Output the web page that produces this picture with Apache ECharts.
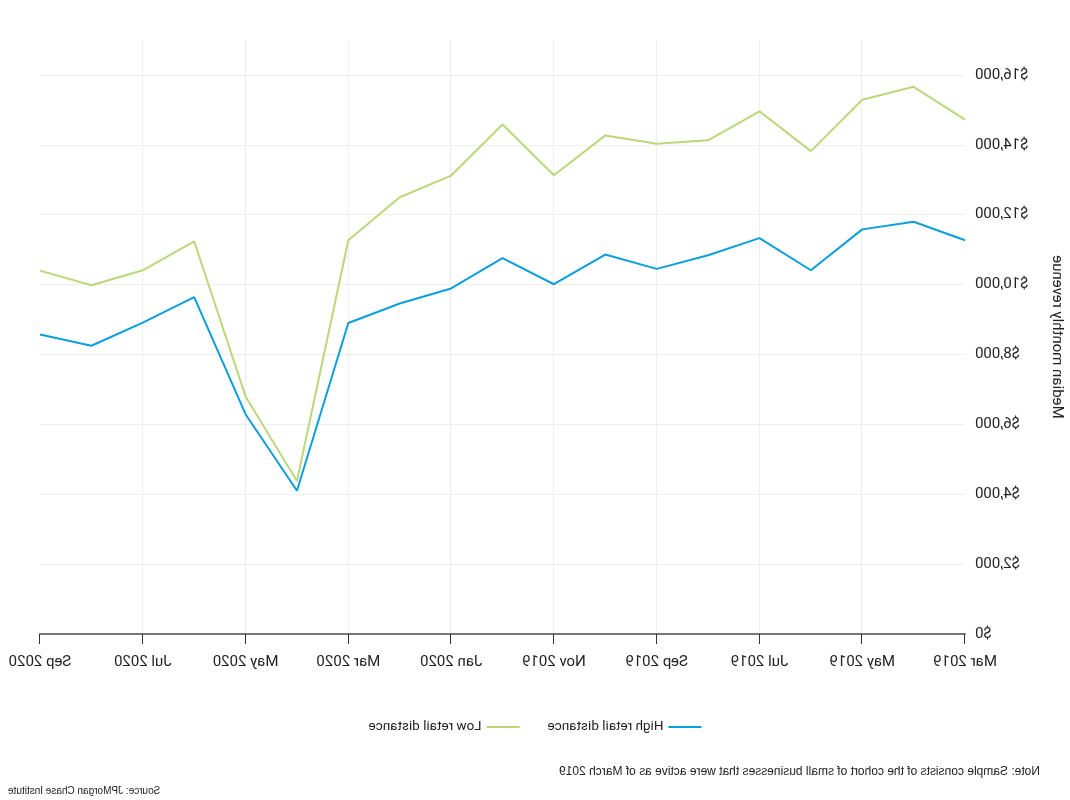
<!DOCTYPE html>
<html>
<head>
<meta charset="utf-8">
<title>Median monthly revenue by retail distance</title>
<script src="https://cdn.jsdelivr.net/npm/echarts@6/dist/echarts.min.js"></script>
<style>
  html, body { margin: 0; padding: 0; background: #fff; }
  /* the reference is drawn mirrored left-to-right */
  #main { width: 1070px; height: 800px; transform: scaleX(-1); }
</style>
</head>
<body>
<div id="main"></div>
<script>
// months on the x axis
var months = ['Mar 2019', 'Apr 2019', 'May 2019', 'Jun 2019', 'Jul 2019', 'Aug 2019', 'Sep 2019',
  'Oct 2019', 'Nov 2019', 'Dec 2019', 'Jan 2020', 'Feb 2020', 'Mar 2020', 'Apr 2020',
  'May 2020', 'Jun 2020', 'Jul 2020', 'Aug 2020', 'Sep 2020'];
// median monthly revenue, high retail distance
var highRetail = [11270, 11800, 11580, 10410, 11330, 10840, 10450, 10860, 10010, 10760,
  9890, 9460, 8900, 4100, 6290, 9640, 8910, 8250, 8570];
// median monthly revenue, low retail distance
var lowRetail = [14720, 15660, 15290, 13820, 14960, 14130, 14030, 14270, 13130, 14580,
  13120, 12500, 11270, 4380, 6800, 11240, 10410, 9980, 10400];
// y tick values
var yTicks = [0, 2000, 4000, 6000, 8000, 10000, 12000, 14000, 16000];

var chart = echarts.init(document.getElementById('main'));

chart.setOption({
  animation: false,
  textStyle: { fontFamily: 'Roboto, "Liberation Sans", sans-serif' },
  title: [{
    text: 'Note: Sample consists of the cohort of small businesses that were active as of March 2019',
    left: 30,
    top: 766,
    padding: 0,
    textStyle: { fontSize: 12, fontWeight: 'normal', color: '#222', fontFamily: '"Liberation Sans", Arial, sans-serif' }
  }, {
    text: 'Source: JPMorgan Chase Institute',
    right: 8,
    top: 786,
    padding: 0,
    textStyle: { fontSize: 10, fontWeight: 'normal', color: '#222', fontFamily: '"Liberation Sans", Arial, sans-serif' }
  }],
  legend: {
    data: ['High retail distance', 'Low retail distance'],
    left: 'center',
    top: 715,
    icon: 'rect',
    itemWidth: 33,
    itemHeight: 2,
    itemGap: 28,
    textStyle: { fontSize: 13.5, color: '#222' }
  },
  grid: {
    left: 105,
    right: 40,
    top: 40,
    bottom: 166,
    outerBoundsMode: 'none'
  },
  xAxis: {
    type: 'category',
    data: months,
    boundaryGap: false,
    axisLine: { lineStyle: { color: '#777', width: 2 } },
    axisTick: { interval: 1, length: 10, lineStyle: { color: '#333', width: 1 } },
    axisLabel: { interval: 1, margin: 21, fontSize: 15, color: '#222' },
    splitLine: {
      show: true,
      interval: 1,
      showMinLine: false,
      showMaxLine: false,
      lineStyle: { color: '#eeeeee', width: 1 }
    }
  },
  yAxis: {
    type: 'value',
    min: yTicks[0],
    max: 17000,
    interval: 2000,
    name: 'Median monthly revenue',
    nameLocation: 'middle',
    nameGap: 84,
    nameTextStyle: { fontSize: 15, color: '#222' },
    axisLine: { show: false },
    axisTick: { show: false },
    axisLabel: {
      margin: 10,
      fontSize: 15,
      color: '#222',
      showMaxLabel: false,
      formatter: function (v) {
        return yTicks.indexOf(v) < 0 ? '' : '$' + v.toLocaleString('en-US');
      }
    },
    splitLine: {
      showMaxLine: false,
      lineStyle: { color: '#eeeeee', width: 1 }
    }
  },
  series: [{
    name: 'High retail distance',
    type: 'line',
    data: highRetail,
    symbol: 'none',
    color: '#0a9fdc',
    lineStyle: { width: 2 }
  }, {
    name: 'Low retail distance',
    type: 'line',
    data: lowRetail,
    symbol: 'none',
    color: '#bad87a',
    lineStyle: { width: 2 }
  }]
});
</script>
</body>
</html>
